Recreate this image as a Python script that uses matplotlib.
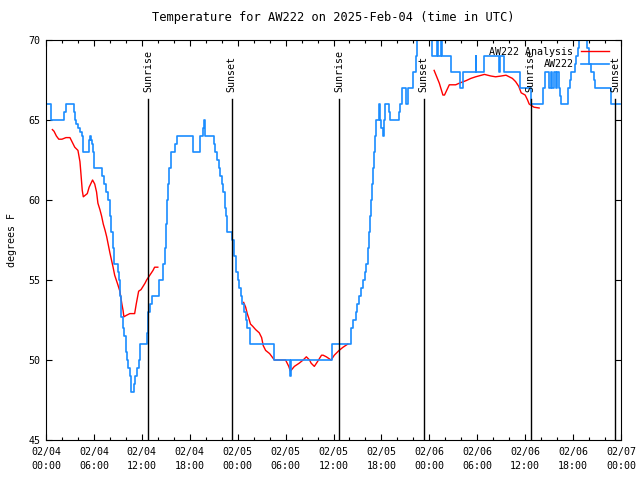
import datetime as dt
import numpy as np
import matplotlib
matplotlib.use('Agg')
import matplotlib.pyplot as plt
import matplotlib.dates as mdates

start = dt.datetime(2025, 2, 4, 0, 0)

# station obs (hours after start, deg F) - drawn as steps
obs_hours = [0.0, 0.6, 2.3, 2.5, 3.5, 3.6, 3.75, 4.0, 4.25, 4.5, 4.67, 5.4, 5.5, 5.6, 5.7, 5.9, 6.0,
             7.0, 7.3, 7.5, 7.75, 8.0, 8.2, 8.4, 8.5, 9.0, 9.1, 9.25, 9.45, 9.6, 9.75, 10.0, 10.2,
             10.3, 10.5, 10.6, 10.7, 11.0, 11.2, 11.4, 11.6, 11.75, 12.0, 12.6, 12.8, 13.0, 13.3,
             14.1, 14.7, 14.9, 15.0, 15.2, 15.3, 15.4, 15.6, 16.2, 16.4, 18.4, 19.25, 19.6, 19.8,
             19.95, 21.0, 21.2, 21.4, 21.6, 21.8, 22.0, 22.2, 22.4, 22.6, 22.7, 23.3, 23.5, 23.6,
             23.8, 24.0, 24.2, 24.4, 24.6, 24.8, 25.0, 25.2, 25.5, 28.6, 30.6, 30.7, 35.8, 38.2,
             38.5, 38.8, 39.0, 39.25, 39.5, 39.7, 39.9, 40.1, 40.3, 40.45, 40.6, 40.75, 40.85,
             40.95, 41.05, 41.15, 41.3, 41.75, 41.85, 42.0, 42.2, 42.35, 42.5, 42.9, 43.1, 44.2,
             44.3, 44.6, 45.1, 45.3, 45.9, 46.0, 46.3, 46.5, 46.7, 48.3, 48.9, 49.1, 49.4, 49.6,
             50.7, 51.8, 52.2, 53.8, 53.9, 54.8, 56.75, 56.9, 57.4, 59.4, 60.7, 62.2, 62.5, 63.0,
             63.2, 63.4, 63.6, 63.8, 64.0, 64.2, 64.4, 64.5, 65.4, 65.6, 65.8, 66.2, 66.4, 66.6,
             66.8, 67.0, 67.8, 68.0, 68.2, 68.6, 68.8, 70.7, 71.9]
obs_temp = [66, 65, 65.5, 66, 65.5, 65, 64.75, 64.5, 64.25, 64, 63, 63.75, 64, 63.75, 63.5, 63, 62,
            61.5, 61, 60.5, 60, 59, 58, 57, 56, 55.5, 55, 54, 52.7, 52, 51.5, 50.5, 50,
            49.5, 49, 48.5, 48, 48.5, 49, 49.5, 50, 51, 51, 51.7, 53, 53.5, 54,
            55, 56, 57, 58.5, 60, 61, 62, 63, 63.5, 64, 63, 64, 64.5, 65,
            64, 63.5, 63, 62.5, 62, 61.5, 61, 60.5, 59.5, 59, 58, 57.5, 57, 56.5,
            55.5, 55, 54.5, 54, 53.5, 53, 52.5, 52, 51, 50, 49, 50, 51, 52,
            52.5, 53, 53.5, 54, 54.5, 55, 55.5, 56, 57, 58, 59, 60, 61,
            62, 63, 64, 65, 66, 65, 64.5, 64, 65, 66, 65.5, 65, 65.5,
            66, 67, 66, 67, 67.5, 68, 69, 70, 71, 69, 71, 69, 71, 69,
            68, 67, 68, 69, 68, 69, 68, 69, 68, 67, 66, 67, 68, 67,
            68, 67, 68, 67, 68, 67, 66.5, 66, 67, 67.5, 68, 68.5, 69, 69.5,
            70, 71, 69.5, 68.5, 68, 67.5, 67, 66, 66]

# analysis, nan = gap between runs
ana_hours = [0.8, 1.0, 1.3, 1.6, 2.0, 2.5, 3.0, 3.3, 3.6, 4.0, 4.25, 4.35, 4.46, 4.54, 4.67, 5.17,
             5.4, 5.83, 6.1, 6.33, 6.5, 6.75, 6.96, 7.17, 7.4, 7.6, 7.8, 8.0, 8.2, 8.4, 8.6, 8.8,
             9.0, 9.25, 9.5, 9.65, 9.75, 10.1, 10.5, 11.1, 11.3, 11.6, 11.9, 12.4, 12.6, 13.0,
             13.4, 13.6, 14.0, np.nan,
             24.75, 25.0, 25.2, 25.4, 25.6, 25.9, 26.25, 26.7, 27.0, 27.2, 27.5, 28.0, 28.6,
             30.0, 30.4, 30.6, 31.1, 31.7, 32.2, 32.6, 33.0, 33.2, 33.6, 34.0, 34.5, 34.7, 35.1,
             35.7, 36.1, 36.7, 37.2, 37.8, np.nan,
             48.6, 49.25, 49.7, 49.9, 50.5, 51.3, 51.75, 52.6, 53.2, 53.8, 54.9, 55.7, 56.3,
             57.0, 57.6, 58.4, 58.8, 59.2, 59.5, 60.0, 60.3, 60.5, 61.1, 61.75]
ana_temp = [64.4, 64.3, 64.0, 63.8, 63.8, 63.9, 63.9, 63.6, 63.3, 63.1, 62.4, 61.8, 61.1, 60.6, 60.2, 60.4,
            60.8, 61.25, 61.0, 60.5, 59.8, 59.4, 59.0, 58.5, 58.1, 57.7, 57.2, 56.7, 56.25, 55.8, 55.3, 55.0,
            54.7, 54.3, 53.5, 53.1, 52.7, 52.8, 52.9, 52.9, 53.5, 54.3, 54.4, 54.8, 55.0, 55.3,
            55.6, 55.8, 55.8, np.nan,
            53.6, 53.3, 52.9, 52.6, 52.25, 52.1, 51.9, 51.7, 51.4, 50.9, 50.6, 50.4, 50.0,
            50.0, 49.6, 49.3, 49.6, 49.8, 50.0, 50.2, 50.0, 49.8, 49.6, 49.9, 50.3, 50.3, 50.2,
            50.0, 50.3, 50.6, 50.8, 51.0, np.nan,
            68.1, 67.3, 66.56, 66.56, 67.2, 67.2, 67.3, 67.46, 67.6, 67.7, 67.85, 67.75, 67.7,
            67.75, 67.8, 67.6, 67.4, 67.1, 66.7, 66.56, 66.25, 66.0, 65.8, 65.75]

sunrise_hours = [12.8, 36.75, 60.7]
sunset_hours = [23.25, 47.3, 71.3]


def to_time(hours):
    return [start + dt.timedelta(hours=h) if not np.isnan(h) else None for h in hours]


obs_t = to_time(obs_hours)
ana_t = [mdates.date2num(t) if t is not None else np.nan for t in to_time(ana_hours)]

plt.rcParams['font.family'] = 'DejaVu Sans Mono'
plt.rcParams['font.size'] = 7.2

fig = plt.figure(figsize=(6.4, 4.8), dpi=100)
ax = fig.add_axes([46 / 640, 40 / 480, 575 / 640, 400 / 480])

ax.plot(ana_t, ana_temp, color='#ff0000', lw=1.0, label='AW222 Analysis')
ax.plot(obs_t, obs_temp, color='#1a8cff', lw=1.2, drawstyle='steps-post', label='AW222')

for h in sunrise_hours + sunset_hours:
    t = start + dt.timedelta(hours=h)
    ax.plot([t, t], [45, 66.3], color='black', lw=1.0)
    ax.text(t, 66.75, 'Sunrise' if h in sunrise_hours else 'Sunset', rotation=90,
            ha='center', va='bottom', fontsize=7.2)

ax.set_xlim(start, start + dt.timedelta(hours=72))
ax.set_ylim(45, 70)
ax.set_yticks([45, 50, 55, 60, 65, 70])
ax.xaxis.set_major_locator(mdates.HourLocator(byhour=[0, 6, 12, 18]))
ax.xaxis.set_minor_locator(mdates.HourLocator(interval=2))
ax.xaxis.set_major_formatter(mdates.DateFormatter('%m/%d\n%H:%M'))
ax.tick_params(which='both', direction='in', top=True, right=True, width=0.8)
ax.tick_params(which='major', length=4)
ax.tick_params(which='minor', length=2.3)
ax.tick_params(axis='x', pad=5)
ax.tick_params(axis='y', pad=4)

ax.set_ylabel('degrees F', labelpad=8)
ax.set_title('Temperature for AW222 on 2025-Feb-04 (time in UTC)', pad=14)

ax.legend(loc='upper right', bbox_to_anchor=(0.985, 0.99), frameon=False, markerfirst=False,
          handlelength=2.8, handletextpad=0.8, labelspacing=0.25, borderaxespad=0.1,
          borderpad=0.2)

fig.canvas.draw()
for lbl in ax.get_xticklabels():
    lbl.set_linespacing(1.5)

fig.savefig('out.png', dpi=100)
